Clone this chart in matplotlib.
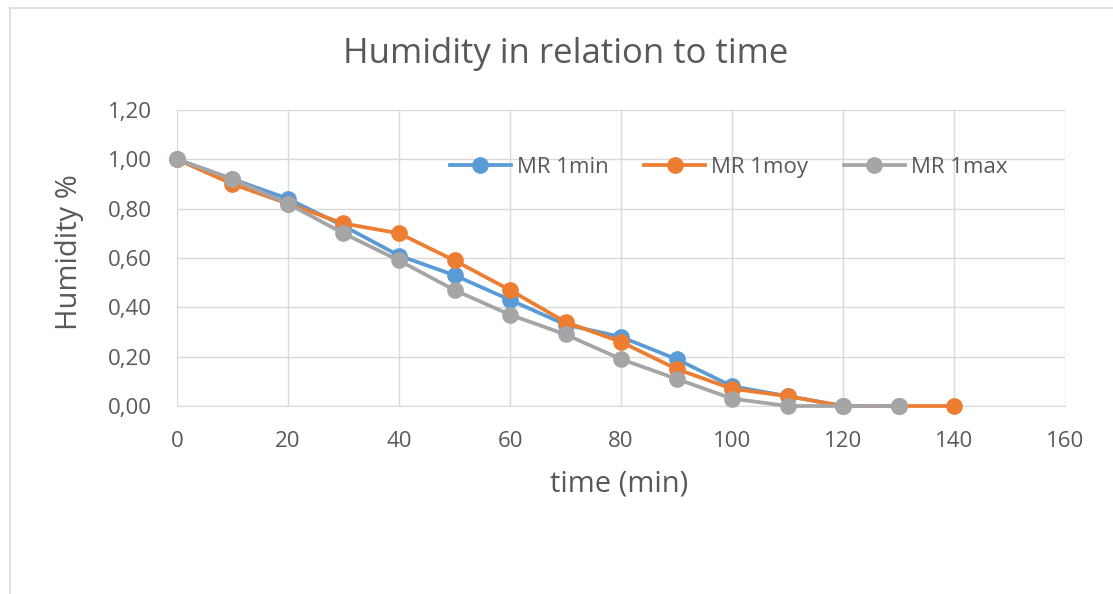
import matplotlib.pyplot as plt
from matplotlib.lines import Line2D
from matplotlib.ticker import FuncFormatter

plt.rcParams['font.family'] = ['Open Sans', 'DejaVu Sans']

time_min = [0, 10, 20, 30, 40, 50, 60, 70, 80, 90, 100, 110, 120, 130, 140]
mr_min = [1.00, 0.92, 0.84, 0.73, 0.61, 0.53, 0.43, 0.33, 0.28, 0.19, 0.08, 0.04, 0.00, 0.00]
mr_moy = [1.00, 0.90, 0.82, 0.74, 0.70, 0.59, 0.47, 0.34, 0.26, 0.15, 0.07, 0.04, 0.00, 0.00, 0.00]
mr_max = [1.00, 0.92, 0.82, 0.70, 0.59, 0.47, 0.37, 0.29, 0.19, 0.11, 0.03, 0.00, 0.00, 0.00]
labels = ['MR 1min', 'MR 1moy', 'MR 1max']

txt = '#595959'
grid = '#D9D9D9'

fig = plt.figure(figsize=(11.13, 5.94), dpi=100)
ax = fig.add_axes([0.159, 0.3165, 0.798, 0.4983])

series = [mr_min, mr_moy, mr_max]
colors = ['#5B9BD5', '#ED7D31', '#A5A5A5']
for vals, c, lab in zip(series, colors, labels):
    ax.plot(time_min[:len(vals)], vals, color=c, lw=2.7, marker='o', ms=11, label=lab, clip_on=False, zorder=3)

ax.set_xlim(0, 160)
ax.set_ylim(0, 1.2)
ax.set_xticks(range(0, 161, 20))
ax.set_yticks([0, 0.2, 0.4, 0.6, 0.8, 1.0, 1.2])
ax.yaxis.set_major_formatter(FuncFormatter(lambda v, p: f'{v:.2f}'.replace('.', ',')))
ax.grid(True, color=grid, lw=1)
for s in ['top', 'right', 'left']:
    ax.spines[s].set_visible(False)
ax.spines['bottom'].set_color(grid)
ax.tick_params(length=0, labelsize=16, labelcolor=txt)
ax.tick_params(axis='y', pad=18)
ax.tick_params(axis='x', pad=18)

ax.set_xlabel('time (min)', fontsize=21, color=txt)
ax.set_ylabel('Humidity %', fontsize=21, color=txt)
ax.xaxis.set_label_coords(0.498, -0.215)
ax.yaxis.set_label_coords(-0.105, 0.52)
fig.text(0.508, 0.909, 'Humidity in relation to time', ha='center', va='center', fontsize=25, color=txt)

ax.legend(loc='center', bbox_to_anchor=(0.621, 0.807), ncol=3, frameon=False,
          fontsize=16, labelcolor=txt, handlelength=2.75, columnspacing=1.6, handletextpad=0.27)

fig.add_artist(Line2D([0.009, 1.0], [0.987, 0.987], color=grid, lw=1.2, transform=fig.transFigure))
fig.add_artist(Line2D([0.009, 0.009], [0.0, 0.987], color=grid, lw=1.2, transform=fig.transFigure))

fig.savefig('out.png', dpi=100)
